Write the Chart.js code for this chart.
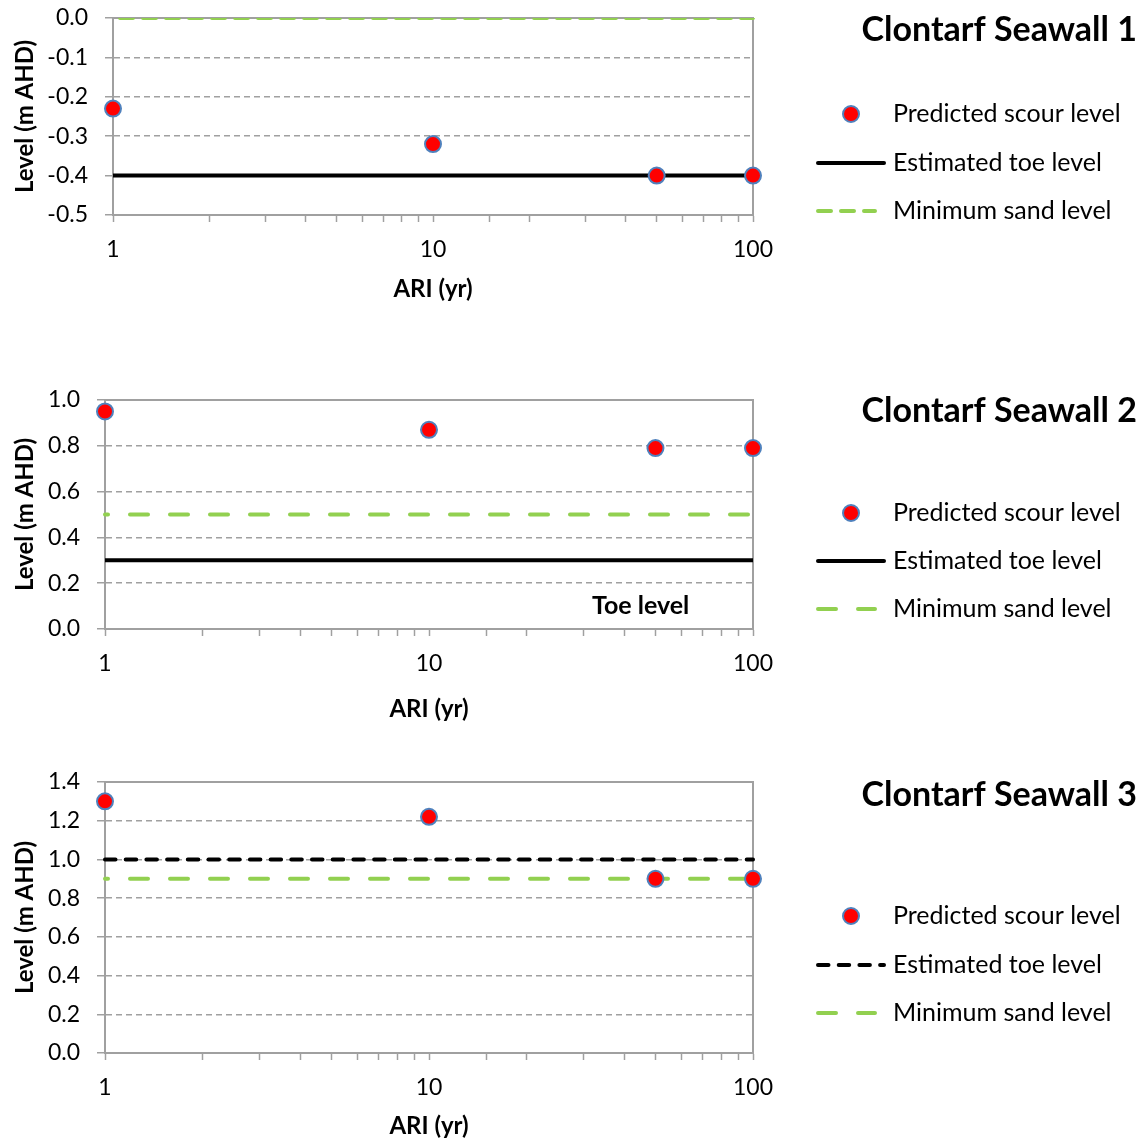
<!DOCTYPE html>
<html>
<head>
<meta charset="utf-8">
<title>Clontarf Seawall scour levels</title>
<script src="https://cdn.jsdelivr.net/npm/chart.js@4.4.1/dist/chart.umd.min.js"></script>
<style>
    html, body { margin: 0; padding: 0; background: #fff; }
    #wrap { position: relative; width: 1142px; height: 1142px; }
    #wrap canvas { position: absolute; left: 0; top: 0; }
</style>
</head>
<body>
<div id="wrap">
    <canvas id="chart1" width="1142" height="1142"></canvas>
    <canvas id="chart2" width="1142" height="1142"></canvas>
    <canvas id="chart3" width="1142" height="1142"></canvas>
</div>
<script>
// Chart data
const ariYears = [1, 10, 50, 100];
const lineEnds = [1, 100];
const xTickLabels = [1, 10, 100];
const seawallNames = ['Clontarf Seawall 1', 'Clontarf Seawall 2', 'Clontarf Seawall 3'];
const seriesLabels = ['Predicted scour level', 'Estimated toe level', 'Minimum sand level'];
const scour1 = [-0.23, -0.32, -0.40, -0.40];
const scour2 = [0.95, 0.87, 0.79, 0.79];
const scour3 = [1.30, 1.22, 0.90, 0.90];
const toeLevels = [-0.4, 0.3, 1.0];
const sandLevels = [0.0, 0.5, 0.9];
const yMins = [-0.5, 0, 0];
const yMaxs = [0, 1, 1.4];
const ySteps = [0.1, 0.2, 0.2];
const toeNote = { text: 'Toe level', x: 45, y: 0.1 };

const FONT = 'Lato';
const AXIS_GRAY = '#a0a0a0';

// page positions of each plot box (pixels)
const layouts = [
    { left: 113, right: 753, top: 18, bottom: 215, xTitleY: 290, titleY: 30, legendY: [114, 163, 211] },
    { left: 105, right: 753, top: 400, bottom: 629, xTitleY: 710, titleY: 411, legendY: [513, 561, 609] },
    { left: 105, right: 753, top: 782, bottom: 1053, xTitleY: 1127, titleY: 795, legendY: [916, 965, 1013] }
];
const toeDash = [[], [], [10.5, 10.2]];
const sandDash = [[13, 10], [18, 22], [18, 22]];
const sandDashOffset = [16, 15, 15];

function framePlugin(idx, note) {
    const L = layouts[idx];
    return {
        id: 'frame' + idx,
        beforeDatasetsDraw(chart) {
            const { ctx, chartArea: a } = chart;
            ctx.save();
            ctx.strokeStyle = AXIS_GRAY;
            ctx.lineWidth = 2;
            ctx.beginPath();
            ctx.moveTo(a.left, a.top);
            ctx.lineTo(a.right, a.top);
            ctx.lineTo(a.right, a.bottom);
            ctx.stroke();
            ctx.restore();
        },
        afterDraw(chart) {
            const ctx = chart.ctx;
            ctx.save();
            // title
            ctx.fillStyle = '#000';
            ctx.font = 'bold 34px ' + FONT;
            ctx.textAlign = 'right';
            ctx.textBaseline = 'middle';
            ctx.fillText(seawallNames[idx], 1137, L.titleY);

            // legend
            chart.data.datasets.forEach((ds, i) => {
                const y = L.legendY[i];
                if (i === 0) {
                    ctx.beginPath();
                    ctx.arc(851, y, ds.pointRadius, 0, Math.PI * 2);
                    ctx.fillStyle = ds.pointBackgroundColor;
                    ctx.fill();
                    ctx.lineWidth = ds.pointBorderWidth;
                    ctx.strokeStyle = ds.pointBorderColor;
                    ctx.stroke();
                } else {
                    ctx.beginPath();
                    ctx.setLineDash(ds.borderDash);
                    ctx.lineDashOffset = 0;
                    ctx.lineCap = 'round';
                    ctx.lineWidth = ds.borderWidth;
                    ctx.strokeStyle = ds.borderColor;
                    ctx.moveTo(818, y);
                    ctx.lineTo(i === 1 ? 884 : 875, y);
                    ctx.stroke();
                    ctx.setLineDash([]);
                }
                ctx.fillStyle = '#000';
                ctx.font = '25px ' + FONT;
                ctx.textAlign = 'left';
                ctx.textBaseline = 'middle';
                ctx.fillText(ds.label, 893, y);
            });

            // in-plot note
            if (note) {
                const px = chart.scales.x.getPixelForValue(note.x);
                const py = chart.scales.y.getPixelForValue(note.y);
                ctx.font = 'bold 25px ' + FONT;
                ctx.textAlign = 'center';
                ctx.fillText(note.text, px, py);
            }
            ctx.restore();
        }
    };
}

function makeChart(canvasId, idx, scour, note) {
    const L = layouts[idx];
    const lineClip = { left: 2, right: 2, top: 0, bottom: 0 };
    return new Chart(document.getElementById(canvasId), {
        type: 'scatter',
        data: {
            datasets: [
                {
                    label: seriesLabels[0],
                    data: ariYears.map((x, i) => ({ x: x, y: scour[i] })),
                    showLine: false,
                    pointRadius: 8,
                    pointBackgroundColor: '#ff0000',
                    pointBorderColor: '#4f81bd',
                    pointBorderWidth: 2,
                    clip: false
                },
                {
                    label: seriesLabels[1],
                    data: lineEnds.map(x => ({ x: x, y: toeLevels[idx] })),
                    showLine: true,
                    pointRadius: 0,
                    borderColor: '#000000',
                    borderWidth: 4,
                    borderDash: toeDash[idx],
                    borderCapStyle: toeDash[idx].length ? 'round' : 'butt',
                    clip: lineClip
                },
                {
                    label: seriesLabels[2],
                    data: lineEnds.map(x => ({ x: x, y: sandLevels[idx] })),
                    showLine: true,
                    pointRadius: 0,
                    borderColor: '#92d050',
                    borderWidth: 4,
                    borderDash: sandDash[idx],
                    borderDashOffset: sandDashOffset[idx],
                    borderCapStyle: 'round',
                    clip: lineClip
                }
            ]
        },
        options: {
            responsive: false,
            animation: false,
            devicePixelRatio: 1,
            layout: {
                padding: {
                    left: 0,
                    top: L.top,
                    right: 1142 - L.right,
                    bottom: 1142 - (L.xTitleY + 16)
                }
            },
            plugins: {
                legend: { display: false },
                tooltip: { enabled: false }
            },
            scales: {
                x: {
                    type: 'logarithmic',
                    min: 1,
                    max: 100,
                    ticks: {
                        autoSkip: false,
                        maxRotation: 0,
                        padding: 14,
                        color: '#000',
                        font: { family: FONT, size: 23 },
                        callback: v => {
                            const t = xTickLabels.find(n => Math.abs(n - v) < 1e-6);
                            return t === undefined ? '' : String(t);
                        }
                    },
                    grid: {
                        drawOnChartArea: false,
                        drawTicks: true,
                        tickLength: 7,
                        tickColor: AXIS_GRAY,
                        tickWidth: 1.5,
                        tickBorderDash: []
                    },
                    border: { color: AXIS_GRAY, width: 2 },
                    title: {
                        display: true,
                        text: 'ARI (yr)',
                        color: '#000',
                        font: { family: FONT, size: 24, weight: 'bold' },
                        padding: { top: 0, bottom: 2 }
                    },
                    afterFit: s => {
                        s.height = L.xTitleY + 16 - L.bottom;
                        s.paddingLeft = 0;
                        s.paddingRight = 0;
                    }
                },
                y: {
                    min: yMins[idx],
                    max: yMaxs[idx],
                    ticks: {
                        stepSize: ySteps[idx],
                        padding: 17,
                        color: '#000',
                        font: { family: FONT, size: 23 },
                        callback: v => Number(v).toFixed(1)
                    },
                    grid: {
                        color: '#a0a0a0',
                        lineWidth: 1.5,
                        tickLength: 8,
                        tickColor: AXIS_GRAY,
                        tickWidth: 1.5,
                        tickBorderDash: [],
                        borderDash: [6, 4]
                    },
                    border: { color: AXIS_GRAY, width: 2, dash: [6, 4] },
                    title: {
                        display: true,
                        text: 'Level (m AHD)',
                        color: '#000',
                        font: { family: FONT, size: 24, weight: 'bold' },
                        padding: { top: 11, bottom: 0 }
                    },
                    afterFit: s => {
                        s.width = L.left;
                        s.paddingTop = 0;
                        s.paddingBottom = 0;
                    }
                }
            }
        },
        plugins: [framePlugin(idx, note)]
    });
}

document.addEventListener('DOMContentLoaded', () => {
    makeChart('chart1', 0, scour1, null);
    makeChart('chart2', 1, scour2, toeNote);
    makeChart('chart3', 2, scour3, null);
});
</script>
</body>
</html>
